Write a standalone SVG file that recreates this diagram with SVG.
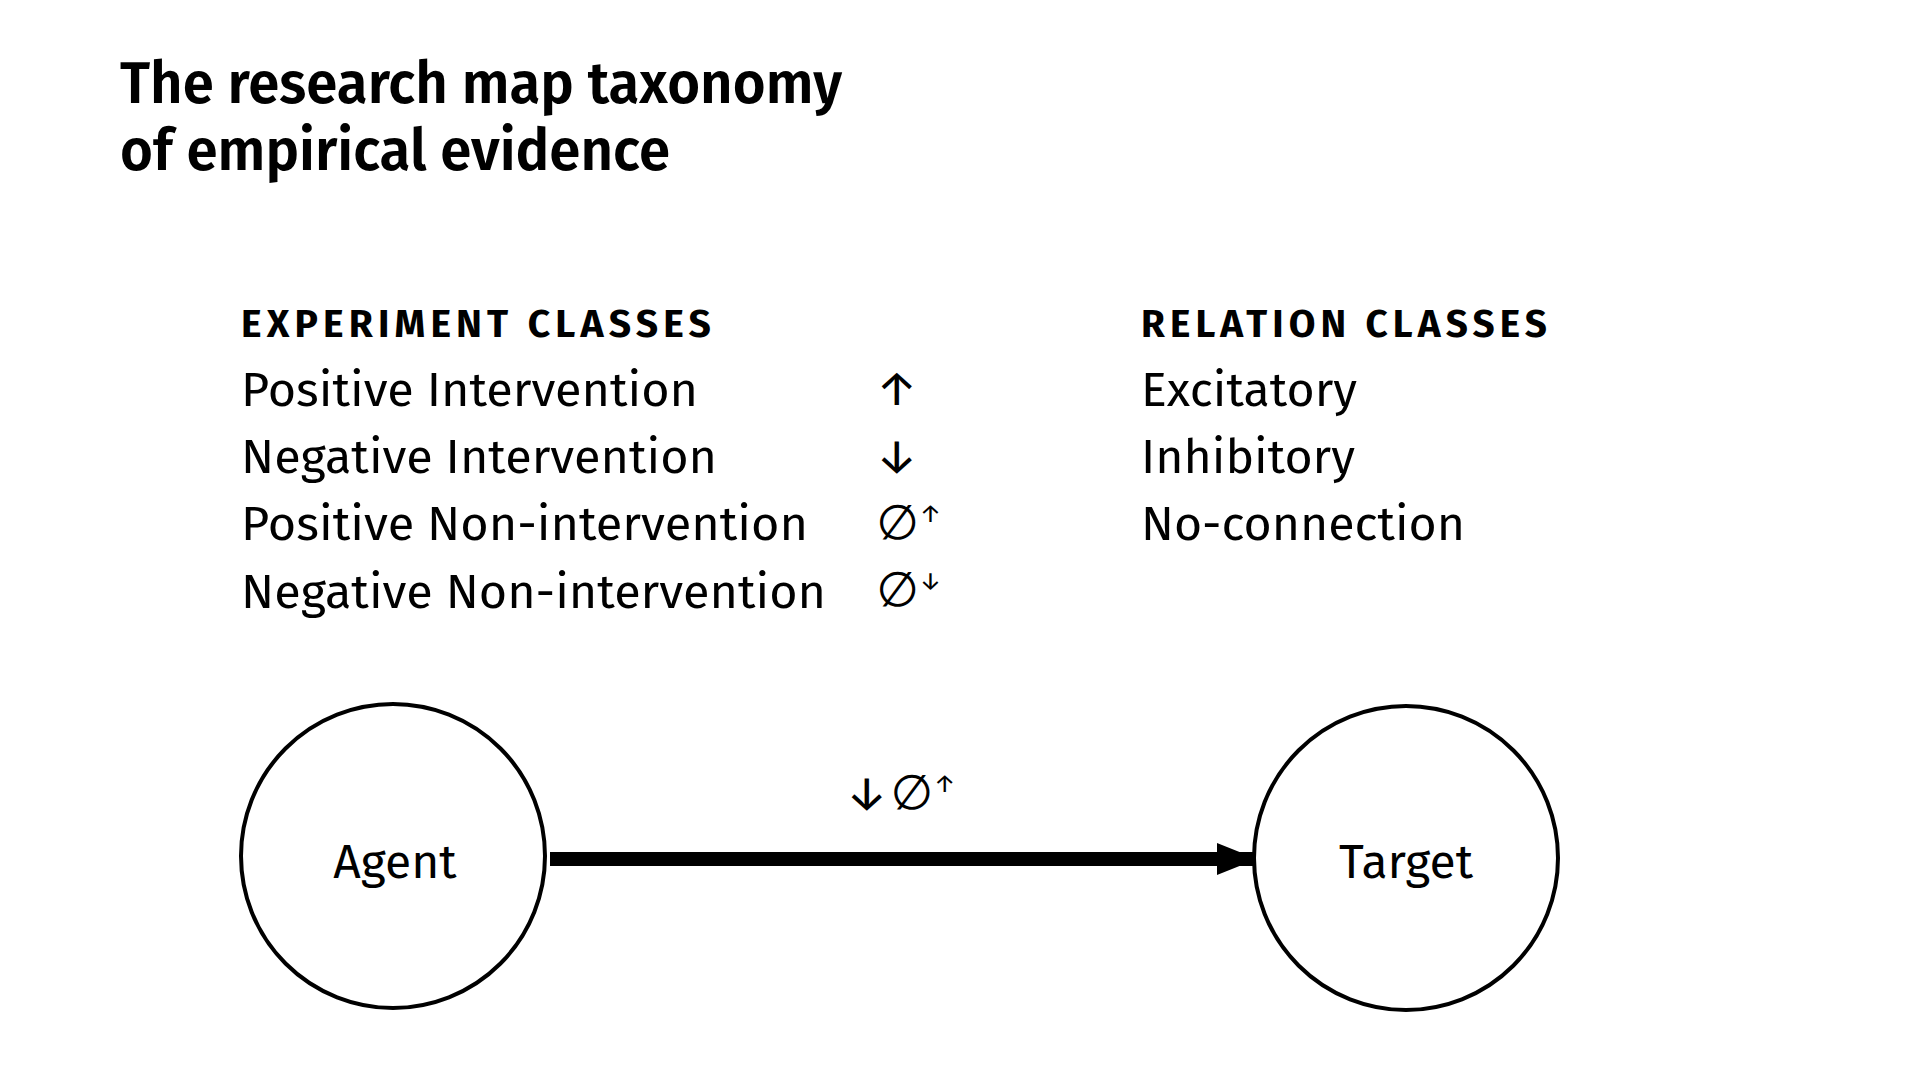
<svg xmlns="http://www.w3.org/2000/svg" width="1920" height="1080" viewBox="0 0 1920 1080">
<style>
.title{font-family:"Fira Sans","Lato","Noto Sans",sans-serif;font-weight:600;font-size:58px;fill:#000}
.head{font-family:"Fira Sans","Lato","Noto Sans",sans-serif;font-weight:700;font-size:38px;letter-spacing:5px;fill:#000}
.body{font-family:"Fira Sans","Lato","Noto Sans",sans-serif;font-weight:400;font-size:48px;fill:#000}
.sym{font-family:"Fira Sans","DejaVu Sans","Noto Sans",sans-serif;font-weight:400;font-size:48px;fill:#000}
.sup{font-size:25px}
.node{fill:#fff;stroke:#000;stroke-width:4}
.lbl{font-family:"Fira Sans","Lato","Noto Sans",sans-serif;font-weight:400;font-size:48px;fill:#000;text-anchor:middle}
</style>
<defs>
<marker id="ah" markerUnits="userSpaceOnUse" markerWidth="40" markerHeight="32" refX="40" refY="16" orient="auto">
<path d="M0,0 L40,16 L0,32 Z" fill="#000"/>
</marker>
</defs>
<rect width="1920" height="1080" fill="#fff"/>
<g id="title">
<text class="title" x="120" y="103" textLength="722" lengthAdjust="spacingAndGlyphs">The research map taxonomy</text>
<text class="title" x="120" y="170" textLength="550" lengthAdjust="spacingAndGlyphs">of empirical evidence</text>
</g>
<g id="experiment-classes">
<text class="head" x="241" y="337" textLength="475" lengthAdjust="spacingAndGlyphs">EXPERIMENT CLASSES</text>
<text class="body" x="241" y="406" textLength="457" lengthAdjust="spacingAndGlyphs">Positive Intervention</text>
<text class="body" x="241" y="473" textLength="476" lengthAdjust="spacingAndGlyphs">Negative Intervention</text>
<text class="body" x="241" y="540" textLength="567" lengthAdjust="spacingAndGlyphs">Positive Non-intervention</text>
<text class="body" x="241" y="608" textLength="585" lengthAdjust="spacingAndGlyphs">Negative Non-intervention</text>
<text class="sym" x="875" y="405">↑</text>
<text class="sym" x="875" y="472">↓</text>
<text class="sym" x="876" y="539">∅<tspan class="sup" dx="0" dy="-17">↑</tspan></text>
<text class="sym" x="876" y="606">∅<tspan class="sup" dx="0" dy="-17">↓</tspan></text>
</g>
<g id="relation-classes">
<text class="head" x="1141" y="337" textLength="411" lengthAdjust="spacingAndGlyphs">RELATION CLASSES</text>
<text class="body" x="1141" y="406" textLength="216" lengthAdjust="spacingAndGlyphs">Excitatory</text>
<text class="body" x="1141" y="473" textLength="214" lengthAdjust="spacingAndGlyphs">Inhibitory</text>
<text class="body" x="1141" y="540" textLength="324" lengthAdjust="spacingAndGlyphs">No-connection</text>
</g>
<g id="connectors">
<line x1="550" y1="859" x2="1257" y2="859" stroke="#000" stroke-width="14" marker-end="url(#ah)"/>
<text class="sym" x="845" y="809">↓<tspan dx="2">∅</tspan><tspan class="sup" dx="0" dy="-17">↑</tspan></text>
</g>
<g id="agent">
<circle class="node" cx="393" cy="856" r="152"/>
<text class="lbl" x="395" y="878">Agent</text>
</g>
<g id="target">
<circle class="node" cx="1406" cy="858" r="152"/>
<text class="lbl" x="1406" y="878">Target</text>
</g>
</svg>
